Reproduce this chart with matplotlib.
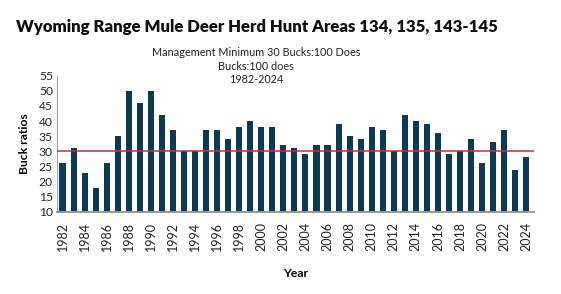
import numpy as np
import matplotlib.pyplot as plt

plt.rcParams['font.family'] = ['Lato', 'DejaVu Sans']

# Buck:doe ratios per year
years = list(range(1982, 2025))
buck_ratios = [26, 31, 23, 18, 26, 35, 50, 46, 50, 42, 37, 30, 30, 37, 37, 34,
               38, 40, 38, 38, 32, 31, 29, 32, 32, 39, 35, 34, 38, 37, 30, 42,
               40, 39, 36, 29, 30, 34, 26, 33, 37, 24, 28]
management_min = 30
tick_years = years[::2]
y_ticks = list(range(10, 56, 5))

title = "Wyoming Range Mule Deer Herd Hunt Areas 134, 135, 143-145"
subtitle = "Management Minimum 30 Bucks:100 Does\nBucks:100 does\n1982-2024"

bar_color = "#0b3a52"
line_color = "#c0332b"

fig = plt.figure(figsize=(5.61, 2.94), dpi=100)
ax = fig.add_axes([57 / 561, 1 - 212 / 294, (534 - 57) / 561, (212 - 75.5) / 294])

ax.bar(years, buck_ratios, width=0.55, color=bar_color, zorder=2)
ax.axhline(management_min, color=line_color, linewidth=1.1, zorder=3)

ax.set_ylim(10, 55)
ax.set_xlim(1981.5, 2024.7)
ax.set_yticks(y_ticks)
ax.set_xticks(tick_years)
ax.set_xticklabels([str(y) for y in tick_years], rotation=90)
ax.tick_params(axis='both', length=0, labelsize=8.7, colors="#222222", pad=3)
ax.tick_params(axis='x', pad=7, labelsize=9)

for side in ['top', 'right']:
    ax.spines[side].set_visible(False)
ax.spines['left'].set_color("#888888")
ax.spines['left'].set_linewidth(0.6)
ax.spines['bottom'].set_color("#999999")
ax.spines['bottom'].set_linewidth(1.4)

ax.set_ylabel("Buck ratios", fontsize=8.7, fontweight='bold', labelpad=6)
ax.set_xlabel("Year", fontsize=8.7, fontweight='bold', labelpad=12)

fig.text(16 / 561, 1 - 27 / 294, title, fontsize=12.1, fontweight='heavy',
         ha='left', va='center', color="#111111")
fig.text(256 / 561, 1 - 66 / 294, subtitle, fontsize=7.8, ha='center',
         va='center', linespacing=1.25, color="#222222")

fig.savefig("out.png", dpi=100)
